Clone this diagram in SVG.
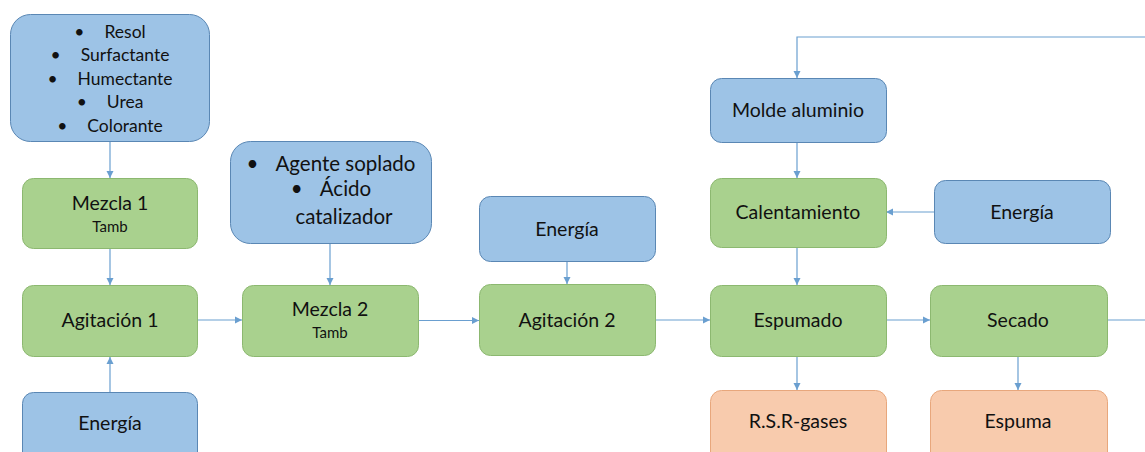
<svg xmlns="http://www.w3.org/2000/svg" width="1145" height="452" viewBox="0 0 1145 452">
<style>
.b{fill:#9dc3e6;stroke:#5a87b4;stroke-width:1}
.g{fill:#a9d18e;stroke:#8cb870;stroke-width:1}
.o{fill:#f8cbad;stroke:#e8a77c;stroke-width:1}
text{font-family:Lato,"Open Sans","Liberation Sans",sans-serif;fill:#111;text-anchor:middle}
.t{font-size:19.5px}
.a{font-size:20.5px}
.s{font-size:15px}
.l{font-size:17.5px}
.c{fill:none;stroke:#6a9fd0;stroke-width:1.2}
</style>
<defs>
<marker id="a" markerWidth="8" markerHeight="8" refX="7" refY="4" orient="auto" markerUnits="userSpaceOnUse">
<path d="M0,0.5 L7,4 L0,7.5 Z" fill="#6a9fd0"/>
</marker>
</defs>
<rect width="1145" height="452" fill="#fff"/>
<g id="connectors">
<path class="c" d="M110,142 V178" marker-end="url(#a)"/>
<path class="c" d="M110,248 V285" marker-end="url(#a)"/>
<path class="c" d="M110,392 V357" marker-end="url(#a)"/>
<path class="c" d="M197,320 H242" marker-end="url(#a)"/>
<path class="c" d="M330,243 V285" marker-end="url(#a)"/>
<path class="c" d="M418,320.5 H479" marker-end="url(#a)"/>
<path class="c" d="M567,261 V284" marker-end="url(#a)"/>
<path class="c" d="M655,320 H710" marker-end="url(#a)"/>
<path class="c" d="M1145,37 H797 V78" marker-end="url(#a)"/>
<path class="c" d="M797,142 V178" marker-end="url(#a)"/>
<path class="c" d="M934,212 H886" marker-end="url(#a)"/>
<path class="c" d="M797,247 V285" marker-end="url(#a)"/>
<path class="c" d="M886,320 H930" marker-end="url(#a)"/>
<path class="c" d="M1107,320 H1145"/>
<path class="c" d="M797,357 V390" marker-end="url(#a)"/>
<path class="c" d="M1018,357 V390" marker-end="url(#a)"/>
</g>
<g id="n-materias">
<rect class="b" x="10.5" y="14.5" width="199" height="127" rx="20"/>
<text class="l" x="110" y="38"><tspan>•</tspan><tspan dx="20">Resol</tspan></text>
<text class="l" x="110" y="61"><tspan>•</tspan><tspan dx="20">Surfactante</tspan></text>
<text class="l" x="110" y="84.5"><tspan>•</tspan><tspan dx="20">Humectante</tspan></text>
<text class="l" x="110" y="108"><tspan>•</tspan><tspan dx="20">Urea</tspan></text>
<text class="l" x="110" y="131.5"><tspan>•</tspan><tspan dx="20">Colorante</tspan></text>
</g>
<g id="n-mezcla1">
<rect class="g" x="22.5" y="178.5" width="175" height="70" rx="11"/>
<text class="t" x="110" y="210">Mezcla 1</text>
<text class="s" x="110" y="232">Tamb</text>
</g>
<g id="n-agitacion1">
<rect class="g" x="22.5" y="285.5" width="175" height="71" rx="11"/>
<text class="t" x="110" y="327">Agitación 1</text>
</g>
<g id="n-energia1">
<rect class="b" x="22.5" y="392.5" width="175" height="80" rx="11"/>
<text class="t" x="110" y="430">Energía</text>
</g>
<g id="n-agente">
<rect class="b" x="230.5" y="141.5" width="201" height="102" rx="20"/>
<text class="a" x="331" y="171"><tspan>•</tspan><tspan dx="17">Agente soplado</tspan></text>
<text class="a" x="331" y="196"><tspan>•</tspan><tspan dx="17">Ácido</tspan></text>
<text class="a" x="344" y="224">catalizador</text>
</g>
<g id="n-mezcla2">
<rect class="g" x="242.5" y="285.5" width="176" height="71" rx="11"/>
<text class="t" x="330" y="316">Mezcla 2</text>
<text class="s" x="330" y="338">Tamb</text>
</g>
<g id="n-energia2">
<rect class="b" x="479.5" y="196.5" width="176" height="65" rx="11"/>
<text class="t" x="567" y="236">Energía</text>
</g>
<g id="n-agitacion2">
<rect class="g" x="479.5" y="284.5" width="176" height="71" rx="11"/>
<text class="t" x="567" y="327">Agitación 2</text>
</g>
<g id="n-molde">
<rect class="b" x="710.5" y="78.5" width="176" height="64" rx="11"/>
<text class="t" x="798" y="117">Molde aluminio</text>
</g>
<g id="n-calentamiento">
<rect class="g" x="710.5" y="178.5" width="176" height="69" rx="11"/>
<text class="t" x="798" y="219">Calentamiento</text>
</g>
<g id="n-energia3">
<rect class="b" x="934.5" y="180.5" width="176" height="63" rx="11"/>
<text class="t" x="1022" y="219">Energía</text>
</g>
<g id="n-espumado">
<rect class="g" x="710.5" y="285.5" width="176" height="71" rx="11"/>
<text class="t" x="798" y="327">Espumado</text>
</g>
<g id="n-secado">
<rect class="g" x="930.5" y="285.5" width="177" height="71" rx="11"/>
<text class="t" x="1018" y="327">Secado</text>
</g>
<g id="n-rsr">
<rect class="o" x="710.5" y="390.5" width="176" height="80" rx="11"/>
<text class="t" x="798" y="428">R.S.R-gases</text>
</g>
<g id="n-espuma">
<rect class="o" x="930.5" y="390.5" width="177" height="80" rx="11"/>
<text class="t" x="1018" y="428">Espuma</text>
</g>
</svg>
